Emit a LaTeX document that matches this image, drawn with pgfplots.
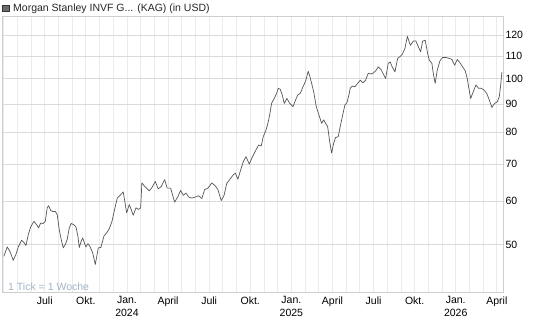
\documentclass[border=0pt]{standalone}
\usepackage{pgfplots}
\pgfplotsset{compat=1.18}
\usepackage{fontspec}
\setmainfont{Liberation Sans}
\definecolor{gridh}{HTML}{DADADA}
\definecolor{gridv}{HTML}{EBEBEB}
\definecolor{frame}{HTML}{CFCFCF}
\definecolor{linec}{HTML}{555555}
\definecolor{notec}{HTML}{A3B3C8}
\begin{document}
\begin{tikzpicture}[x=1pt,y=1pt]
\path (0,0) rectangle (545,327);
\begin{axis}[
  at={(2pt,35pt)}, anchor=south west,
  width=501pt, height=276pt, scale only axis,
  ymode=log,
  xmin=-9.12, xmax=27.45,
  ymin=41.0, ymax=130,
  axis line style={frame},
  xtick={-6,-3,0,3,6,9,12,15,18,21,24,27},
  xticklabels={Juli,Okt.,{Jan.\\2024},April,Juli,Okt.,{Jan.\\2025},April,Juli,Okt.,{Jan.\\2026},April},
  minor xtick={-9,-8,...,27},
  ytick={50,60,70,80,90,100,110,120},
  yticklabels={50,60,70,80,90,100,110,120},
  yticklabel pos=right,
  log ticks with fixed point,
  major tick length=0pt, minor tick length=0pt,
  xmajorgrids, xminorgrids, ymajorgrids,
  x grid style={gridv, line width=0.8pt},
  y grid style={gridh, line width=0.8pt},
  minor grid style={gridv, line width=0.8pt},
  major grid style={line width=0.8pt},
  xticklabel style={font=\fontsize{10.5}{12.5}\selectfont, align=center, yshift=-1pt},
  yticklabel style={font=\fontsize{10.5}{12}\selectfont, xshift=-1pt},
  /pgf/number format/assume math mode=true,
  clip=true,
]
\addplot[linec, line width=0.7pt, line join=round] coordinates {
(-8.98,47.6) (-8.74,49.5) (-8.54,48.6) (-8.30,46.8) (-8.10,48.0) (-7.93,49.5) (-7.69,50.9) (-7.52,50.4) (-7.37,49.8) (-7.20,52.1)
(-7.03,53.8) (-6.79,55.1) (-6.59,54.3) (-6.45,53.6) (-6.30,54.7) (-6.11,54.6) (-5.96,55.1) (-5.82,58.3) (-5.72,58.8) (-5.57,57.7)
(-5.42,57.4) (-5.23,57.4) (-5.09,56.7) (-4.94,53.2) (-4.80,51.1) (-4.65,49.3) (-4.50,50.0) (-4.36,51.1) (-4.21,53.6) (-4.07,54.6)
(-3.87,54.3) (-3.72,53.8) (-3.58,51.8) (-3.48,49.4) (-3.34,50.7) (-3.23,51.4) (-3.09,50.2) (-2.99,49.5) (-2.85,50.2) (-2.70,49.6)
(-2.50,48.3) (-2.31,46.0) (-2.09,49.3) (-1.90,49.4) (-1.68,51.8) (-1.48,52.5) (-1.29,53.4) (-1.09,55.1) (-0.90,57.9) (-0.71,60.7)
(-0.51,61.4) (-0.27,62.3) (-0.02,57.1) (0.17,59.1) (0.31,57.9) (0.46,56.5) (0.66,58.3) (0.85,57.9) (1.00,58.3) (1.09,64.7)
(1.31,63.7) (1.63,62.6) (1.80,63.3) (2.07,65.1) (2.28,63.1) (2.50,63.7) (2.75,65.6) (2.94,63.3) (3.19,63.3) (3.48,59.7)
(3.72,61.1) (3.92,62.7) (4.11,61.4) (4.31,62.0) (4.50,61.0) (4.74,60.7) (4.99,61.0) (5.23,61.3) (5.47,60.6) (5.67,62.9)
(5.91,63.3) (6.20,64.7) (6.45,63.9) (6.64,62.9) (6.88,60.1) (7.08,61.3) (7.28,64.5) (7.52,65.7) (7.76,66.9) (7.91,67.4)
(8.10,65.7) (8.30,68.3) (8.49,70.7) (8.69,72.2) (8.93,70.0) (9.12,71.8) (9.36,73.8) (9.61,75.8) (9.80,75.5) (9.95,78.5)
(10.15,80.7) (10.29,83.0) (10.42,86.0) (10.56,90.2) (10.75,92.1) (10.93,94.1) (11.04,96.1) (11.19,95.7) (11.34,93.4) (11.48,90.2)
(11.68,92.1) (11.88,90.2) (12.12,89.0) (12.31,91.5) (12.46,93.4) (12.65,94.1) (12.85,96.7) (13.04,99.0) (13.23,103.2) (13.34,101.2)
(13.48,98.1) (13.63,94.7) (13.82,89.0) (14.01,86.0) (14.21,83.0) (14.36,84.2) (14.50,83.0) (14.65,81.9) (14.80,76.9) (14.94,73.3)
(15.09,76.4) (15.23,78.2) (15.42,78.5) (15.57,81.9) (15.72,85.3) (15.91,89.6) (16.06,90.5) (16.20,93.4) (16.30,96.1) (16.45,97.0)
(16.64,96.7) (16.84,98.1) (17.03,99.4) (17.23,98.3) (17.42,99.4) (17.61,102.3) (17.81,102.0) (18.01,102.5) (18.20,103.7) (18.34,105.1)
(18.54,104.0) (18.69,102.3) (18.88,100.1) (19.07,106.6) (19.22,107.3) (19.36,105.1) (19.56,102.9) (19.76,108.9) (19.91,109.6) (20.10,110.8)
(20.29,113.5) (20.47,119.4) (20.69,115.0) (20.91,117.1) (21.09,117.1) (21.28,114.2) (21.44,111.9) (21.58,117.0) (21.77,117.5) (21.95,111.1)
(22.07,108.1) (22.26,106.6) (22.36,102.3) (22.50,98.1) (22.65,103.7) (22.85,107.8) (23.04,109.3) (23.28,109.3) (23.53,108.9) (23.72,108.4)
(23.92,105.8) (24.11,108.4) (24.31,106.9) (24.50,105.1) (24.69,103.4) (24.84,100.1) (24.94,96.7) (25.09,92.1) (25.28,94.7) (25.47,97.4)
(25.67,96.1) (25.86,96.1) (26.06,95.4) (26.26,94.1) (26.45,91.5) (26.64,88.7) (26.84,90.2) (27.03,90.8) (27.18,92.8) (27.28,97.4)
(27.37,102.9)
};
\node[anchor=base west, text=notec, font=\fontsize{10.5}{12}\selectfont, inner sep=0pt] at (rel axis cs:0.012,0.006) {1 Tick = 1 Woche};
\end{axis}
\draw[fill=gray!85!black, draw=black!80, line width=0.5pt] (2.5,315.5) rectangle (9,322);
\node[anchor=base west, inner sep=0pt, font=\fontsize{10.5}{12}\selectfont, text=black!85] at (13,315) {Morgan Stanley INVF G... (KAG) (in USD)};
\end{tikzpicture}
\end{document}
